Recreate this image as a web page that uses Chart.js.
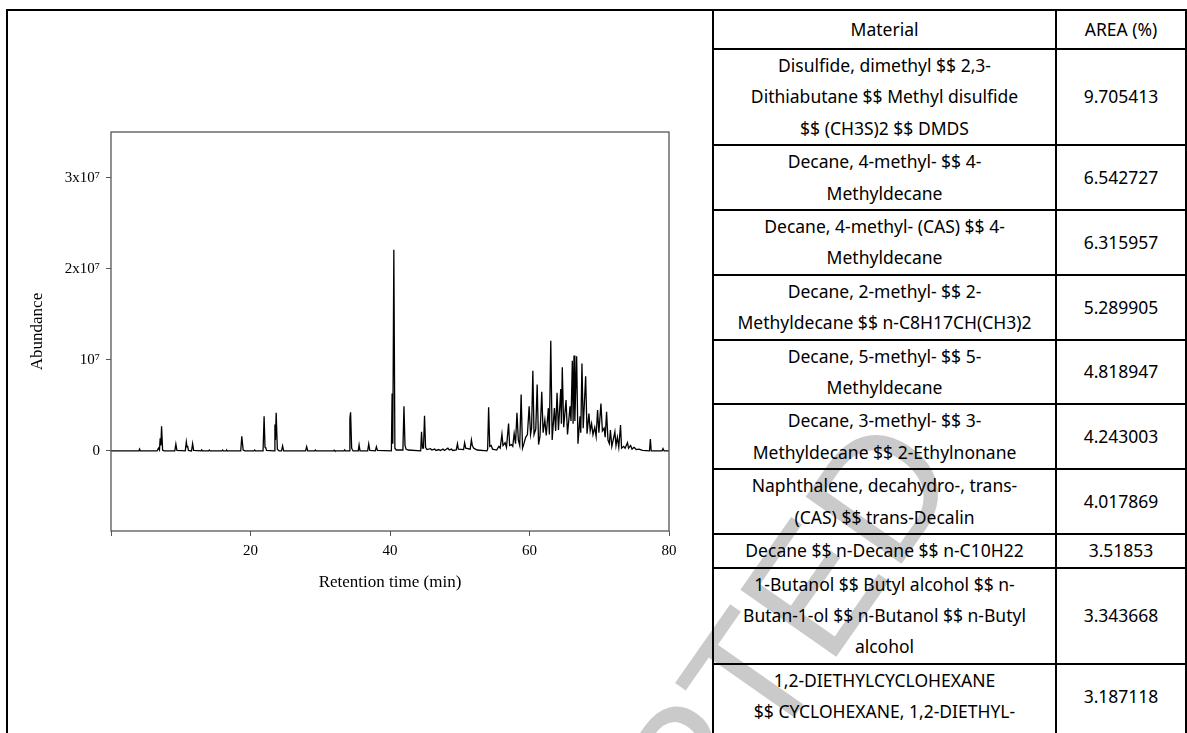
<!DOCTYPE html>
<html>
<head>
<meta charset="utf-8">
<script src="https://cdn.jsdelivr.net/npm/chart.js@4.4.1/dist/chart.umd.min.js"></script>
<style>
  html, body { margin: 0; padding: 0; background: #fff; width: 1187px; height: 733px; overflow: hidden; }
  body { position: relative; }
  #stamp {
    position: absolute; left: 650px; top: 820px;
    transform: translate(-50%, -50%) rotate(-55deg);
    font: 170px 'Liberation Sans', sans-serif; line-height: 1;
    color: #cacaca; white-space: nowrap; z-index: 0;
  }
  #frame {
    position: absolute; left: 6px; top: 9px; width: 1300px; height: 800px;
    border-left: 2px solid #000; border-top: 2px solid #000; z-index: 1;
  }
  #plot { position: absolute; left: 0; top: 0; z-index: 2; }
  table {
    position: absolute; left: 712px; top: 9px; z-index: 3;
    border-collapse: collapse; table-layout: fixed;
    font-family: 'Noto Sans', sans-serif; font-size: 17.5px; color: #000;
  }
  th, td {
    border: 2px solid #000; text-align: center; vertical-align: middle;
    line-height: 31.4px; padding: 0 2px; font-weight: normal; white-space: pre-line;
  }
  th { line-height: 37px; }
  tr.last td { vertical-align: top; padding-bottom: 40px; }
  tr.last td.val { padding-top: 16px; }
</style>
</head>
<body>
<div id="stamp">ACCEPTED</div>
<div id="frame"></div>
<canvas id="plot" width="700" height="733"></canvas>
<table id="areaTable">
  <colgroup><col style="width:349px"><col style="width:132px"></colgroup>
  <thead><tr><th>Material</th><th>AREA (%)</th></tr></thead>
  <tbody></tbody>
</table>
<script>
// Chromatogram trace: retention time (min) and abundance (millions of counts)
const retentionTime = [
  0, 4.0, 4.1, 4.2, 6.6, 6.8, 6.95, 7.05, 7.15, 7.25, 7.4, 7.6,
  9.15, 9.3, 9.45, 10.65, 10.8, 10.9, 10.98, 11.1, 11.55, 11.7, 11.85,
  12.9, 13.0, 13.1, 14.0, 14.1, 14.2, 15.9, 16.0, 16.1, 16.5, 16.6, 16.7,
  18.6, 18.75, 18.95, 19.2, 20.5, 20.6, 20.7, 21.8, 21.95, 22.08, 22.2, 22.3,
  23.4, 23.5, 23.58, 23.68, 23.85, 24.1, 24.45, 24.6, 24.75, 27.9, 28.05, 28.2,
  29.2, 29.3, 29.4, 31.9, 32.0, 32.1, 33.4, 33.5, 33.6,
  34.15, 34.25, 34.35, 34.5, 34.7, 35.45, 35.57, 35.7, 36.8, 36.95, 37.1, 37.9, 38.05, 38.2,
  40.2, 40.3, 40.4, 40.55, 40.7, 40.9, 41.85, 42.0, 42.15, 42.3, 42.6,
  44.4, 44.52, 44.65, 44.8, 44.95, 45.1, 45.3, 45.8, 46.0, 46.4, 46.6, 47.0, 47.2,
  47.6, 47.8, 48.3, 48.5, 48.8, 49.0, 49.5, 49.67, 49.8, 50.55, 50.7, 50.85,
  51.5, 51.67, 51.8, 52.0, 52.5, 53.9, 54.0, 54.14, 54.3, 54.5, 54.7,
  55.3, 55.6, 55.8, 56.05, 56.2, 56.5, 56.7, 57.0, 57.15, 57.4, 57.6, 57.8, 58.0,
  58.2, 58.4, 58.6, 58.8, 59.0, 59.2, 59.45, 59.7, 59.95, 60.15, 60.3, 60.48,
  60.65, 60.9, 61.1, 61.3, 61.5, 61.76, 61.95, 62.2, 62.4, 62.7, 62.85, 63.05,
  63.25, 63.57, 63.75, 63.95, 64.15, 64.48, 64.57, 64.7, 64.9, 65.24, 65.45, 65.81,
  65.95, 66.14, 66.25, 66.38, 66.5, 66.76, 66.95, 67.24, 67.35, 67.52, 67.7, 68.05,
  68.25, 68.52, 68.7, 68.9, 69.1, 69.35, 69.55, 69.76, 69.95, 70.24, 70.45, 70.7,
  70.85, 71.05, 71.25, 71.45, 71.6, 71.8, 72.0, 72.24, 72.4, 72.6, 72.8, 73.05,
  73.2, 73.5, 73.7, 74.05, 74.2, 74.5, 74.7, 75.0, 75.3, 75.7, 76.2,
  77.2, 77.33, 77.45, 79.0, 79.14, 79.3, 80
];
const abundanceMillions = [
  0, 0, 0.2, 0, 0, 0.3, 0.1, 1.4, 0.6, 2.7, 0.1, 0,
  0, 0.75, 0.05, 0, 1.0, 0.45, 0.55, 0.05, 0, 0.8, 0.05,
  0, 0.12, 0, 0, 0.1, 0, 0, 0.1, 0, 0, 0.08, 0,
  0, 1.6, 0.1, 0, 0, 0.1, 0, 0, 3.8, 0.4, 0.3, 0.05,
  0, 2.9, 1.2, 4.2, 0.2, 0, 0, 0.55, 0, 0, 0.47, 0,
  0, 0.1, 0, 0, 0.08, 0, 0, 0.12, 0,
  0, 3.6, 4.25, 0.3, 0, 0, 0.66, 0, 0, 0.77, 0.05, 0, 0.45, 0.05,
  0, 6.3, 0.8, 22.1, 0.3, 0.1, 0.1, 4.9, 0.6, 0.2, 0.1,
  0, 2.1, 0.3, 0.3, 3.85, 0.4, 0.15, 0.25, 0.1, 0.2, 0.05, 0.15, 0.05,
  0.2, 0.05, 0.3, 0.1, 0.2, 0.05, 0.1, 0.8, 0.2, 0.15, 0.9, 0.3,
  0.2, 1.2, 0.6, 0.3, 0.1, 0, 0.2, 4.8, 0.5, 0.6, 0.2,
  0.1, 0.5, 0.3, 1.85, 0.6, 0.9, 0.4, 3.0, 0.6, 0.7, 0.5, 1.9, 0.8,
  4.2, 1.2, 0.6, 6.2, 0.3, 0.8, 1.5, 1.8, 4.9, 1.8, 2.5, 8.8,
  1.8, 2.4, 7.3, 0.7, 1.6, 6.5, 2.0, 3.4, 1.7, 4.7, 1.8, 12.1,
  1.2, 4.7, 2.2, 6.4, 2.3, 6.8, 3.0, 9.2, 2.6, 5.6, 1.8, 4.9,
  3.3, 9.9, 3.0, 10.5, 3.3, 10.4, 0.8, 3.8, 2.0, 9.6, 2.5, 8.2,
  1.9, 4.1, 2.2, 3.0, 1.8, 2.6, 1.6, 4.5, 2.0, 5.2, 2.2, 2.5,
  1.5, 4.3, 1.2, 0.8, 2.3, 0.5, 1.2, 2.1, 0.6, 1.5, 0.4, 2.85,
  0.3, 0.5, 0.3, 0.9, 0.3, 0.6, 0.2, 0.4, 0.15, 0.2, 0.05,
  0, 1.3, 0, 0, 0.25, 0, 0
];

// Axis ticks
const xTickValues = [0, 20, 40, 60, 80];
const xTickLabels = ['', '20', '40', '60', '80'];
const yTickValues = [0, 1e7, 2e7, 3e7];
const yTickLabels = ['0', '10\u2077', '2x10\u2077', '3x10\u2077'];
const xRange = [0, 80];
const yRange = [-8.8e6, 3.505e7];

// Identified compounds and their peak area share
const materials = [
  'Disulfide, dimethyl $$ 2,3-\nDithiabutane $$ Methyl disulfide\n$$ (CH3S)2 $$ DMDS',
  'Decane, 4-methyl- $$ 4-\nMethyldecane',
  'Decane, 4-methyl- (CAS) $$ 4-\nMethyldecane',
  'Decane, 2-methyl- $$ 2-\nMethyldecane $$ n-C8H17CH(CH3)2',
  'Decane, 5-methyl- $$ 5-\nMethyldecane',
  'Decane, 3-methyl- $$ 3-\nMethyldecane $$ 2-Ethylnonane',
  'Naphthalene, decahydro-, trans-\n(CAS) $$ trans-Decalin',
  'Decane $$ n-Decane $$ n-C10H22',
  '1-Butanol $$ Butyl alcohol $$ n-\nButan-1-ol $$ n-Butanol $$ n-Butyl\nalcohol',
  '1,2-DIETHYLCYCLOHEXANE\n$$ CYCLOHEXANE, 1,2-DIETHYL-'
];
const areaPercent = ['9.705413', '6.542727', '6.315957', '5.289905', '4.818947',
                     '4.243003', '4.017869', '3.51853', '3.343668', '3.187118'];

// Build the table body
const tbody = document.querySelector('#areaTable tbody');
materials.forEach((name, i) => {
  const tr = document.createElement('tr');
  if (i === materials.length - 1) tr.className = 'last';
  const a = document.createElement('td'); a.textContent = name;
  const b = document.createElement('td'); b.textContent = areaPercent[i]; b.className = 'val';
  tr.appendChild(a); tr.appendChild(b); tbody.appendChild(tr);
});

// Chromatogram
const serif = 'Liberation Serif, Times New Roman, serif';
const trace = retentionTime.map((t, i) => ({ x: t, y: abundanceMillions[i] * 1e6 }));

const plotFrame = {
  id: 'plotFrame',
  afterDatasetsDraw(chart) {
    const { ctx, chartArea: a } = chart;
    ctx.save();
    ctx.strokeStyle = '#555';
    ctx.lineWidth = 1.3;
    ctx.strokeRect(a.left, a.top, a.right - a.left, a.bottom - a.top);
    ctx.restore();
  }
};

new Chart(document.getElementById('plot'), {
  type: 'line',
  data: {
    datasets: [{
      data: trace,
      borderColor: '#000',
      borderWidth: 1.3,
      pointRadius: 0,
      tension: 0,
      fill: false
    }]
  },
  options: {
    responsive: false,
    animation: false,
    events: [],
    layout: { padding: { left: 0, top: 132, right: 31, bottom: 132 } },
    plugins: { legend: { display: false }, tooltip: { enabled: false } },
    scales: {
      x: {
        type: 'linear', min: xRange[0], max: xRange[1],
        afterBuildTicks: s => { s.ticks = xTickValues.map(v => ({ value: v })); },
        afterFit: s => { s.height = 70; },
        ticks: {
          autoSkip: false, maxRotation: 0, padding: 6, color: '#000',
          font: { family: serif, size: 15 },
          callback: v => xTickLabels[xTickValues.indexOf(v)]
        },
        grid: { display: true, drawOnChartArea: false, tickLength: 5, color: '#555' },
        border: { display: false },
        title: {
          display: true, text: 'Retention time (min)', color: '#000',
          font: { family: serif, size: 17 }, padding: { top: 0, bottom: 8 }
        }
      },
      y: {
        min: yRange[0], max: yRange[1],
        afterBuildTicks: s => { s.ticks = yTickValues.map(v => ({ value: v })); },
        afterFit: s => { s.width = 111; },
        ticks: {
          padding: 6, color: '#000',
          font: { family: serif, size: 15 },
          callback: v => yTickLabels[yTickValues.indexOf(v)]
        },
        grid: { display: true, drawOnChartArea: false, tickLength: 5, color: '#555' },
        border: { display: false },
        title: {
          display: true, text: 'Abundance', color: '#000',
          font: { family: serif, size: 17 }, padding: { top: 27, bottom: 0 }
        }
      }
    }
  },
  plugins: [plotFrame]
});
</script>
</body>
</html>
